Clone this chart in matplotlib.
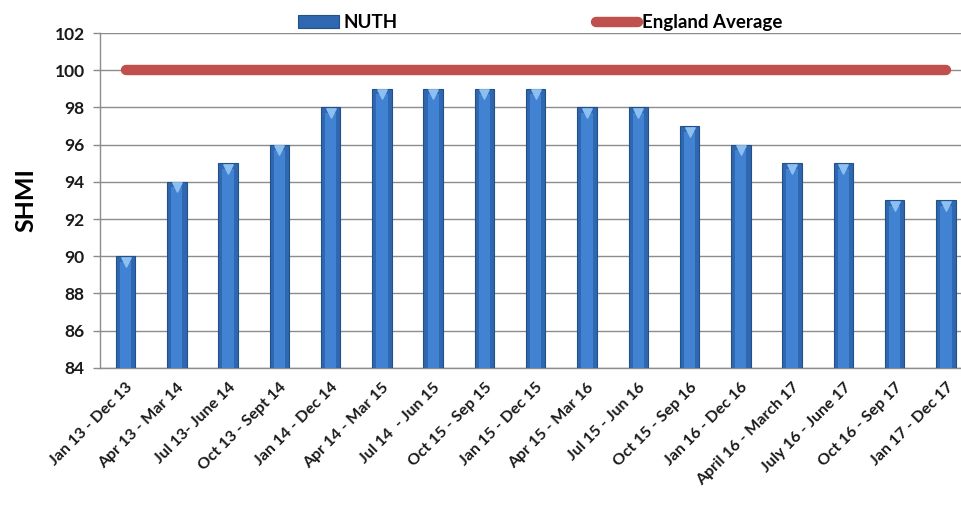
import matplotlib
matplotlib.use("Agg")
import matplotlib.pyplot as plt
import numpy as np

# SHMI by rolling 12-month period
periods = ["Jan 13 - Dec 13", "Apr 13 - Mar 14", "Jul 13- June 14", "Oct 13 - Sept 14",
           "Jan 14 - Dec 14", "Apr 14 - Mar 15", "Jul 14  - Jun 15", "Oct 15 - Sep 15",
           "Jan 15 - Dec 15", "Apr 15 - Mar 16", "Jul 15 - Jun 16", "Oct 15 - Sep 16",
           "Jan 16 - Dec 16", "April 16 - March 17", "July 16 - June 17", "Oct 16 - Sep 17",
           "Jan 17 - Dec 17"]
nuth = [90, 94, 95, 96, 98, 99, 99, 99, 99, 98, 98, 97, 96, 95, 95, 93, 93]
england_avg = [100] * len(periods)

plt.rcParams['font.family'] = ['Lato', 'DejaVu Sans']
plt.rcParams['font.weight'] = 'bold'

fig = plt.figure(figsize=(9.61, 5.16), dpi=100)
ax = fig.add_axes([0.104, 0.287, 0.907, 0.649])

x = np.arange(len(periods))
base = 84
heights = np.array(nuth) - base

# bar body plus a lighter inner strip for the bevelled look
bars = ax.bar(x, heights, bottom=base, width=0.38, color='#2f68b0',
              edgecolor='#24508a', linewidth=0.8, zorder=3, label='NUTH')
ax.bar(x, heights - 0.3, bottom=base, width=0.22, color='#4282d2', zorder=4)
ax.scatter(x, np.array(nuth) - 0.3, marker='v', s=45, color='#8cc0f0', zorder=5)

line, = ax.plot(x, england_avg, color='#c0504d', linewidth=7.5,
                solid_capstyle='round', zorder=6, label='England Average')

ax.set_ylim(84, 102)
ax.set_yticks(range(84, 103, 2))
ax.set_xlim(-0.5, len(periods) - 0.5)
ax.set_xticks(x)
ax.set_xticklabels(periods, rotation=45, ha='right', rotation_mode='anchor',
                   fontsize=11.5, fontweight='bold', color='#1a1a1a')
for lab in ax.get_yticklabels():
    lab.set_fontsize(12.5)
    lab.set_fontweight('bold')
    lab.set_color('#1a1a1a')

ax.tick_params(axis='x', length=0, pad=9)
ax.tick_params(axis='y', length=5, color='#8c8c8c', width=1, pad=6)
ax.grid(axis='y', color='#8c8c8c', linewidth=1, zorder=0)
for s in ['top', 'right']:
    ax.spines[s].set_visible(False)
ax.spines['left'].set_color('#8c8c8c')
ax.spines['bottom'].set_color('#8c8c8c')
ax.spines['left'].set_linewidth(1)
ax.spines['bottom'].set_linewidth(1)

ax.set_ylabel('SHMI', fontsize=18, fontweight='bold', labelpad=12)

leg = fig.legend(handles=[bars, line], loc='upper center', bbox_to_anchor=(0.562, 1.005),
                 ncol=2, frameon=False, columnspacing=10.6,
                 handlelength=2.2, handletextpad=0.25, prop={'weight': 'bold', 'size': 13.5})

fig.savefig('out.png', dpi=100)
